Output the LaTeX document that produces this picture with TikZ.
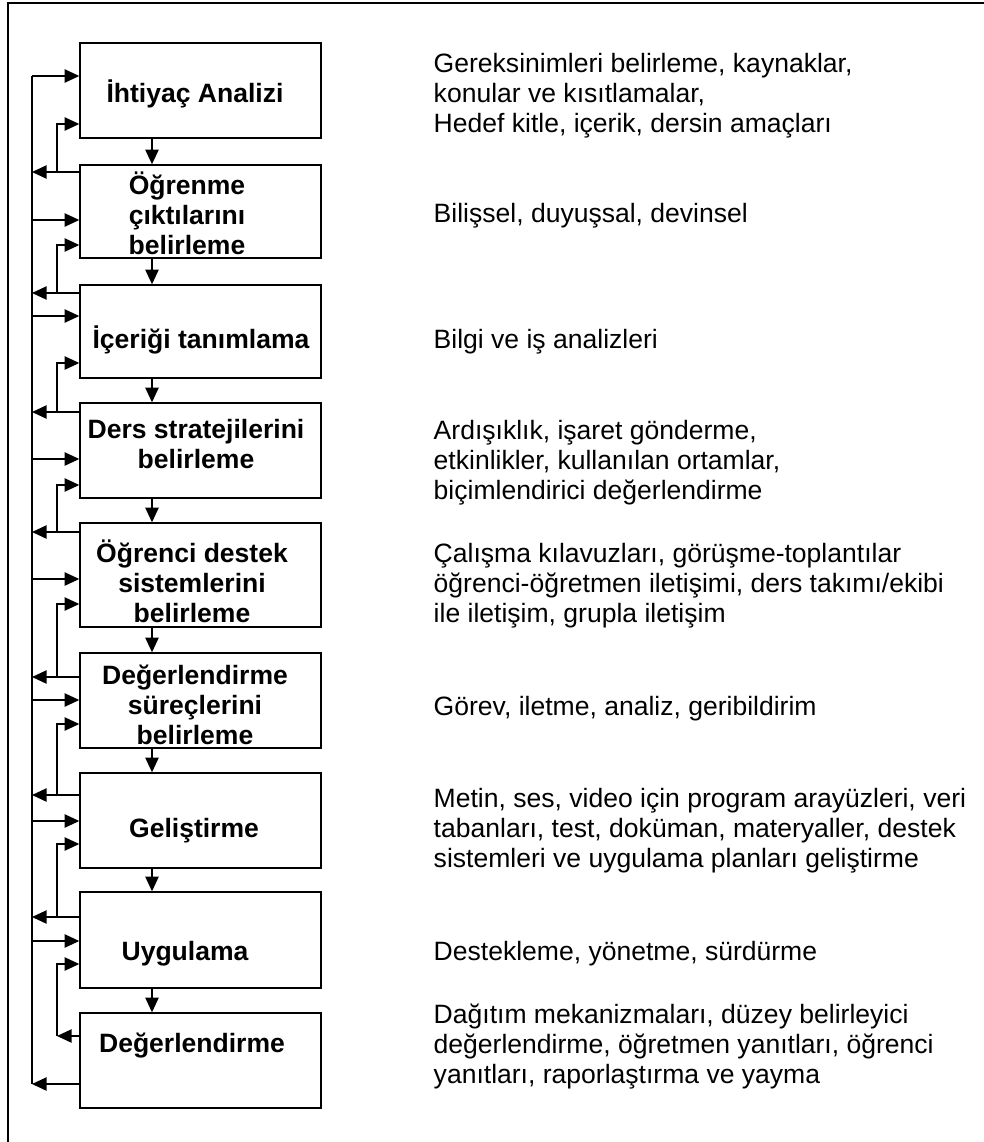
\documentclass[tikz,border=0pt]{standalone}
\usepackage{fontspec}
\setmainfont{Liberation Sans}
\usetikzlibrary{arrows.meta}
\tikzset{
  box/.style={draw,line width=1.1pt,minimum width=241*0.75pt,inner sep=0pt},
  boxtxt/.style={anchor=base,align=center,inner sep=0pt,font=\fontsize{19.9pt}{22.3pt}\selectfont\bfseries},
  desc/.style={anchor=base west,align=left,inner sep=0pt,font=\fontsize{19.9pt}{22.3pt}\selectfont},
  >={Triangle[length=11pt,width=10pt]}
}
\begin{document}
\begin{tikzpicture}[x=0.75pt,y=-0.75pt,line width=1.1pt]
\useasboundingbox (0,0) rectangle (983,1142);
\draw(8,1150)--(8,3)--(990,3);
\coordinate (bus) at (32,0);
\coordinate (inr) at (57,0);
\coordinate (dn) at (152,0);
% boxes
\foreach \i/\y/\h in {1/90.5/95,2/211.5/93,3/331.5/93,4/450.5/95,5/575/104,6/700.5/95,7/820.5/95,8/940/96,9/1060.5/95}
  \node[box,minimum height=\h*0.75pt](b\i)at(200.5,\y){};
% box texts (placed at the last baseline)
\node[boxtxt](t1)at(195,102){İhtiyaç Analizi};
\node[boxtxt](t2)at(187,254){Öğrenme\\çıktılarını\\belirleme};
\node[boxtxt](t3)at(201,348){İçeriği tanımlama};
\node[boxtxt](t4)at(196,468){Ders stratejilerini\\belirleme};
\node[boxtxt](t5)at(192,622){Öğrenci destek\\sistemlerini\\belirleme};
\node[boxtxt](t6)at(195,744){Değerlendirme\\süreçlerini\\belirleme};
\node[boxtxt](t7)at(194,837){Geliştirme};
\node[boxtxt](t8)at(185,960){Uygulama};
\node[boxtxt](t9)at(192,1052){Değerlendirme};
% descriptions
\node[desc](d1)at(433,132){Gereksinimleri belirleme, kaynaklar,\\konular ve kısıtlamalar,\\Hedef kitle, içerik, dersin amaçları};
\node[desc](d2)at(433,222){Bilişsel, duyuşsal, devinsel};
\node[desc](d3)at(433,348){Bilgi ve iş analizleri};
\node[desc](d4)at(433,499){Ardışıklık, işaret gönderme,\\etkinlikler, kullanılan ortamlar,\\biçimlendirici değerlendirme};
\node[desc](d5)at(433,622){Çalışma kılavuzları, görüşme-toplantılar\\öğrenci-öğretmen iletişimi, ders takımı/ekibi\\ile iletişim, grupla iletişim};
\node[desc](d6)at(433,715){Görev, iletme, analiz, geribildirim};
\node[desc](d7)at(433,867){Metin, ses, video için program arayüzleri, veri\\tabanları, test, doküman, materyaller, destek\\sistemleri ve uygulama planları geliştirme};
\node[desc](d8)at(433,960){Destekleme, yönetme, sürdürme};
\node[desc](d9)at(433,1083){Dağıtım mekanizmaları, düzey belirleyici\\değerlendirme, öğretmen yanıtları, öğrenci\\yanıtları, raporlaştırma ve yayma};
% arrows
\draw(bus|-0,76)--(bus|-0,1084);
\foreach \i/\j/\yin/\yr/\yl in {1/2/76/124/172,2/3/220/245/293,3/4/316/363/412,4/5/459/485/532,5/6/579/604/677,6/7/700/724/795,7/8/821/844/917}{
  \draw[->](b\i.south-|dn)--(b\j.north-|dn);
  \draw[->](bus|-0,\yin)--(b\i.west|-0,\yin);
  \draw[->](b\j.west|-0,\yl)--(bus|-0,\yl);
  \draw[->](inr|-0,\yl)|-(b\i.west|-0,\yr);
}
\draw[->](b8.south-|dn)--(b9.north-|dn);
\draw[->](bus|-0,941)--(b8.west|-0,941);
\draw[->](b9.west|-0,1036)--(inr|-0,1036);
\draw[->](inr|-0,1036)|-(b8.west|-0,964);
\draw[->](b9.west|-0,1084)--(bus|-0,1084);
\end{tikzpicture}
\end{document}
